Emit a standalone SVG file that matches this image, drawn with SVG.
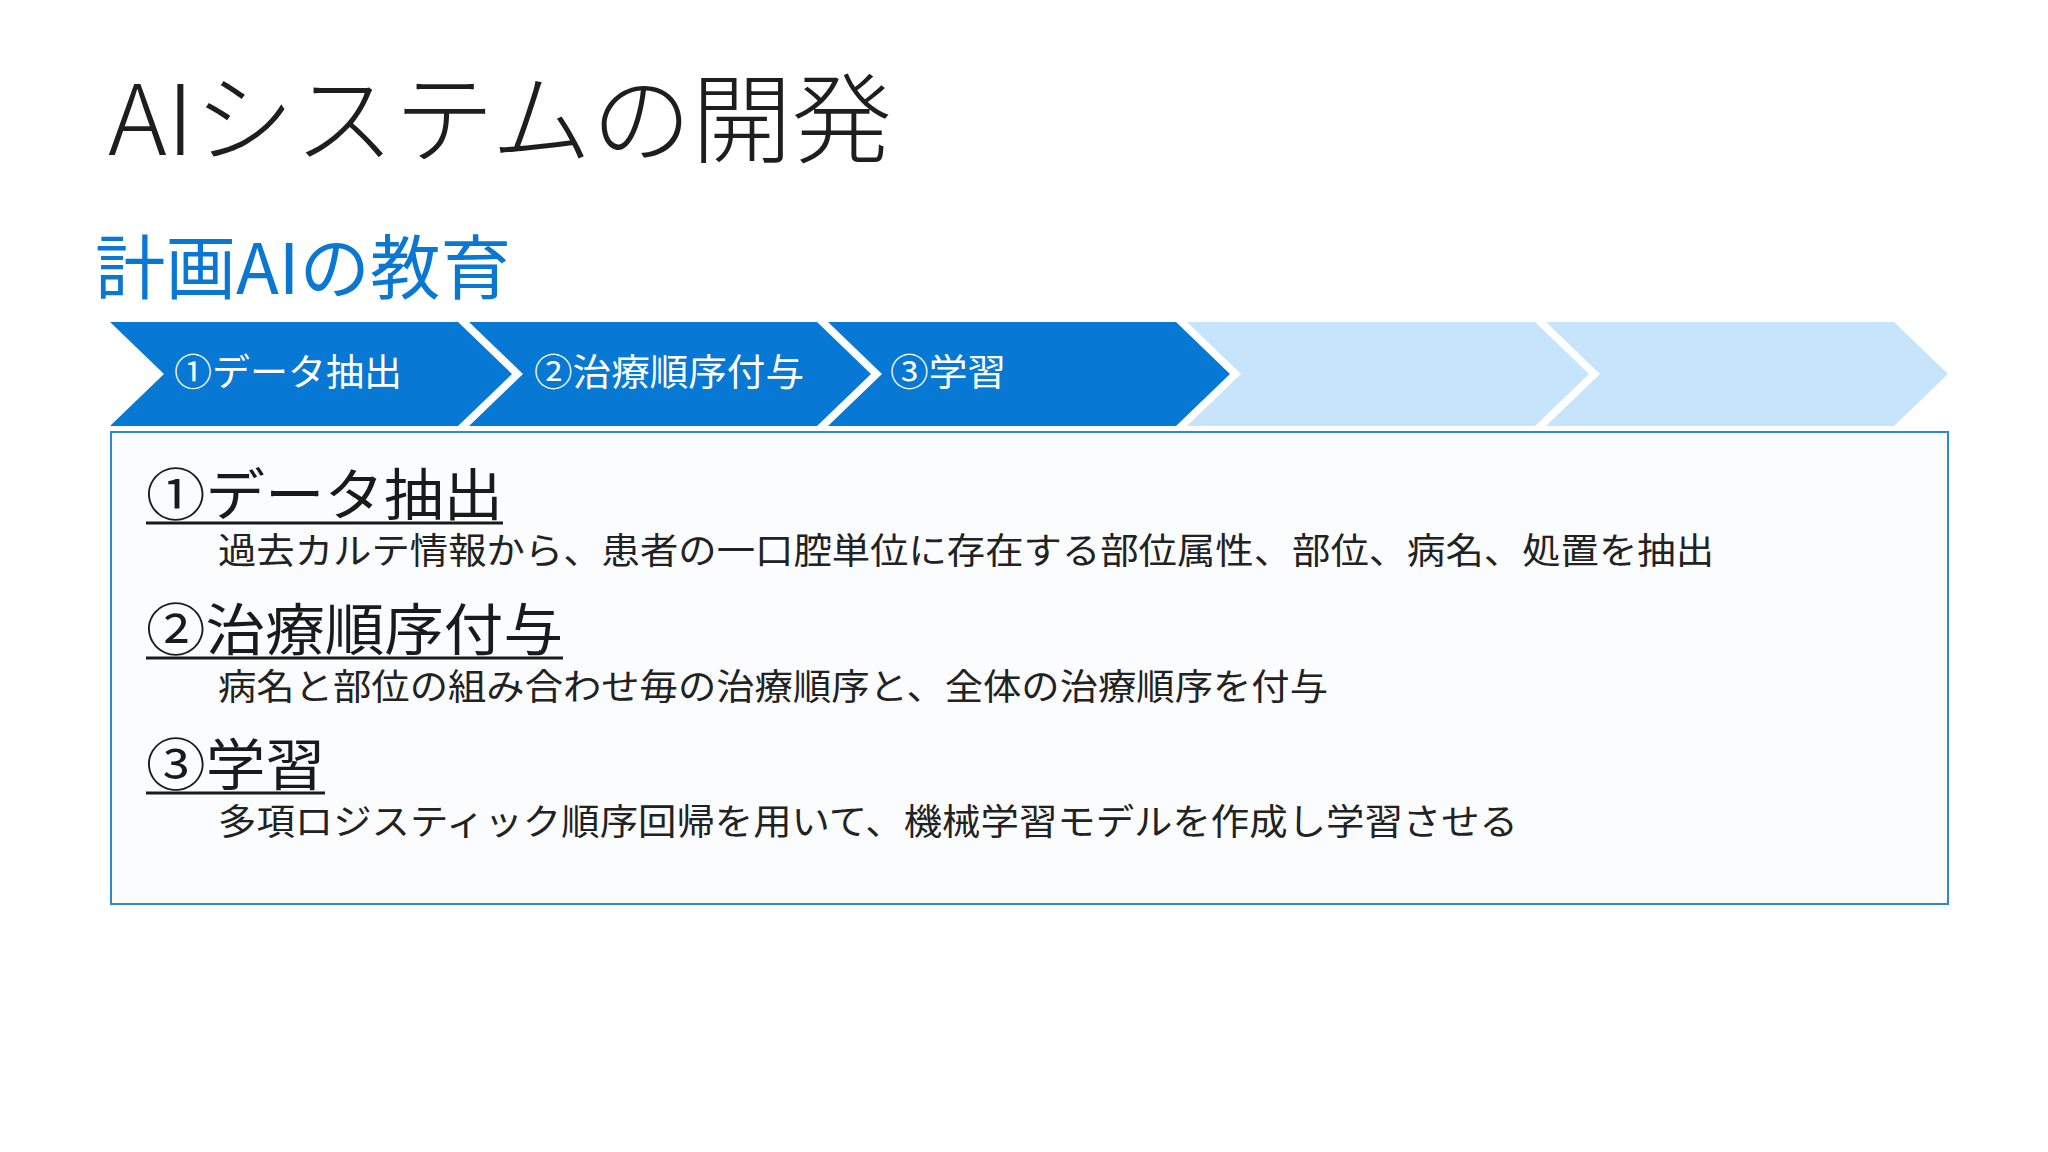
<svg xmlns="http://www.w3.org/2000/svg" width="2048" height="1152" viewBox="0 0 2048 1152">
  <style>
    .jp { font-family: "Noto Sans CJK JP", "Noto Sans", sans-serif; }
    .title { font-size: 98px; fill: #1e1e1e; font-weight: 300; }
    .sub { font-size: 70px; fill: #0a78d2; font-weight: 400; }
    .dark { fill: #0778d4; }
    .light { fill: #c6e4fb; }
    .chev-label { font-size: 37px; fill: #ffffff; }
    .head { font-size: 56px; fill: #1a1a1a; }
    .desc { font-size: 36px; fill: #222222; }
    .ul { stroke: #1a1a1a; stroke-width: 3; }
  </style>
  <rect x="0" y="0" width="2048" height="1152" fill="#ffffff"/>

  <g id="title">
    <text class="jp title" x="108" y="155" textLength="784" lengthAdjust="spacingAndGlyphs">AIシステムの開発</text>
  </g>
  <g id="subtitle">
    <text class="jp sub" x="95" y="294" textLength="416" lengthAdjust="spacingAndGlyphs">計画AIの教育</text>
  </g>

  <g id="chevron-1">
    <polygon class="dark" points="110,322 458,322 512,374 458,426 110,426 164,374"/>
    <text class="jp chev-label" x="174" y="386" textLength="228" lengthAdjust="spacingAndGlyphs">①データ抽出</text>
  </g>
  <g id="chevron-2">
    <polygon class="dark" points="469,322 817,322 871,374 817,426 469,426 523,374"/>
    <text class="jp chev-label" x="534" y="386" textLength="270" lengthAdjust="spacingAndGlyphs">②治療順序付与</text>
  </g>
  <g id="chevron-3">
    <polygon class="dark" points="828,322 1176,322 1230,374 1176,426 828,426 882,374"/>
    <text class="jp chev-label" x="890" y="386" textLength="116" lengthAdjust="spacingAndGlyphs">③学習</text>
  </g>
  <g id="chevron-4">
    <polygon class="light" points="1187,322 1535,322 1589,374 1535,426 1187,426 1241,374"/>
  </g>
  <g id="chevron-5">
    <polygon class="light" points="1546,322 1894,322 1948,374 1894,426 1546,426 1600,374"/>
  </g>

  <g id="detail-box">
    <rect x="111" y="432" width="1837" height="472" fill="#fbfcfd" stroke="#2a89d8" stroke-width="2"/>
    <text class="jp head" x="146" y="515" textLength="357" lengthAdjust="spacingAndGlyphs">①データ抽出</text>
    <line class="ul" x1="146" y1="523" x2="503" y2="523"/>
    <text class="jp desc" x="218" y="564" textLength="1496" lengthAdjust="spacingAndGlyphs">過去カルテ情報から、患者の一口腔単位に存在する部位属性、部位、病名、処置を抽出</text>

    <text class="jp head" x="146" y="650" textLength="417" lengthAdjust="spacingAndGlyphs">②治療順序付与</text>
    <line class="ul" x1="146" y1="658" x2="563" y2="658"/>
    <text class="jp desc" x="218" y="700" textLength="1110" lengthAdjust="spacingAndGlyphs">病名と部位の組み合わせ毎の治療順序と、全体の治療順序を付与</text>

    <text class="jp head" x="146" y="785" textLength="179" lengthAdjust="spacingAndGlyphs">③学習</text>
    <line class="ul" x1="146" y1="793" x2="325" y2="793"/>
    <text class="jp desc" x="218" y="835" textLength="1300" lengthAdjust="spacingAndGlyphs">多項ロジスティック順序回帰を用いて、機械学習モデルを作成し学習させる</text>
  </g>
</svg>
